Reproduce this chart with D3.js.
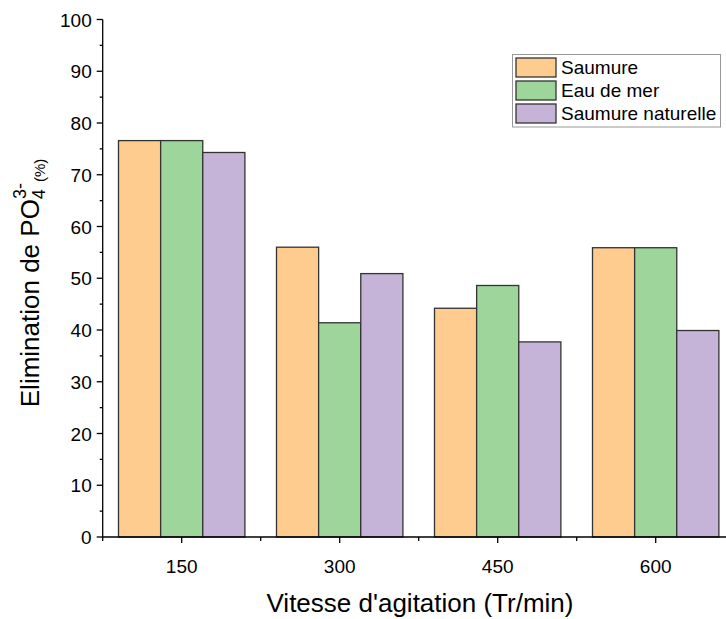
<!DOCTYPE html>
<html>
<head>
<meta charset="utf-8">
<script src="https://cdn.jsdelivr.net/npm/d3@7"></script>
<style>
  body { margin: 0; background: #fff; }
  svg { display: block; font-family: Arial, "Liberation Sans", sans-serif; }
</style>
</head>
<body>
<svg id="chart" width="726" height="619"></svg>
<script>
// data
var speeds = [150, 300, 450, 600];
var seriesNames = ['Saumure', 'Eau de mer', 'Saumure naturelle'];
var saumure = [76.6, 56.0, 44.2, 55.9];
var eauDeMer = [76.6, 41.4, 48.6, 55.9];
var saumureNaturelle = [74.3, 50.9, 37.7, 39.9];
var colors = ['#FFCC90', '#9DD59A', '#C5B4D7'];
var yTicks = [0, 10, 20, 30, 40, 50, 60, 70, 80, 90, 100];

var allSeries = [saumure, eauDeMer, saumureNaturelle];
var svg = d3.select('#chart');

var x = d3.scaleLinear().domain([75, 675]).range([102.7, 734.7]);
var y = d3.scaleLinear().domain([0, 100]).range([537, 19.5]);
var barW = 40; // in x units

//bars
allSeries.forEach(function (vals, si) {
    svg.append('g').selectAll('rect')
        .data(vals)
        .enter().append('rect')
        .attr('x', function (d, i) { return x(speeds[i] + (si - 1.5) * barW); })
        .attr('y', function (d) { return y(d); })
        .attr('width', x(barW) - x(0))
        .attr('height', function (d) { return y(0) - y(d); })
        .attr('fill', colors[si])
        .attr('stroke', '#333')
        .attr('stroke-width', 1.3);
});

//y axis
var yAxis = svg.append('g').attr('transform', 'translate(' + x(75) + ',0)');
yAxis.append('line').attr('y1', y(0)).attr('y2', y(100)).attr('stroke', '#000').attr('stroke-width', 1.3);
yAxis.selectAll('.major').data(yTicks).enter().append('line')
    .attr('x1', -6).attr('x2', 0)
    .attr('y1', function (d) { return y(d); }).attr('y2', function (d) { return y(d); })
    .attr('stroke', '#000').attr('stroke-width', 1.3);
yAxis.selectAll('.minor').data(yTicks.slice(1)).enter().append('line')
    .attr('x1', -3).attr('x2', 0)
    .attr('y1', function (d) { return y(d - 5); }).attr('y2', function (d) { return y(d - 5); })
    .attr('stroke', '#000').attr('stroke-width', 1.3);
yAxis.selectAll('text').data(yTicks).enter().append('text')
    .attr('x', -11).attr('y', function (d) { return y(d) + 7; })
    .attr('text-anchor', 'end').attr('font-size', 19).attr('fill', '#000')
    .text(function (d) { return d; });

//x axis
var xAxis = svg.append('g').attr('transform', 'translate(0,' + y(0) + ')');
xAxis.append('line').attr('x1', x(75)).attr('x2', 726).attr('stroke', '#000').attr('stroke-width', 1.3);
xAxis.selectAll('.major').data(speeds).enter().append('line')
    .attr('x1', function (d) { return x(d); }).attr('x2', function (d) { return x(d); })
    .attr('y1', 0).attr('y2', 6).attr('stroke', '#000').attr('stroke-width', 1.3);
xAxis.selectAll('.minor').data(speeds).enter().append('line')
    .attr('x1', function (d) { return x(d - 75); }).attr('x2', function (d) { return x(d - 75); })
    .attr('y1', 0).attr('y2', 4).attr('stroke', '#000').attr('stroke-width', 1.3);
xAxis.selectAll('text').data(speeds).enter().append('text')
    .attr('x', function (d) { return x(d); }).attr('y', 36)
    .attr('text-anchor', 'middle').attr('font-size', 19).attr('fill', '#000')
    .text(function (d) { return d; });

//axis titles
svg.append('text')
    .attr('x', 420).attr('y', 612)
    .attr('text-anchor', 'middle').attr('font-size', 26).attr('fill', '#000')
    .text("Vitesse d'agitation (Tr/min)");

var yTitle = svg.append('text')
    .attr('transform', 'translate(39,283) rotate(-90)')
    .attr('text-anchor', 'middle').attr('font-size', 26).attr('fill', '#000');
yTitle.append('tspan').text('Elimination de PO');
yTitle.append('tspan').attr('font-size', 18).attr('dy', 6).text('4');
yTitle.append('tspan').attr('font-size', 18).attr('dx', -10).attr('dy', -19).text('3-');
yTitle.append('tspan').attr('font-size', 15).attr('dx', 1).attr('dy', 19).text('(%)');

//legend
var legend = svg.append('g');
legend.append('rect')
    .attr('x', 512.5).attr('y', 54.5).attr('width', 208).attr('height', 72.5)
    .attr('fill', '#fff').attr('stroke', '#999').attr('stroke-width', 1);
var items = legend.selectAll('.item').data(seriesNames).enter().append('g')
    .attr('transform', function (d, i) { return 'translate(516,' + (58 + i * 23) + ')'; });
items.append('rect')
    .attr('width', 40).attr('height', 19)
    .attr('fill', function (d, i) { return colors[i]; })
    .attr('stroke', '#333').attr('stroke-width', 1.3);
items.append('text')
    .attr('x', 45).attr('y', 16)
    .attr('font-size', 19).attr('fill', '#000')
    .text(function (d) { return d; });
</script>
</body>
</html>
